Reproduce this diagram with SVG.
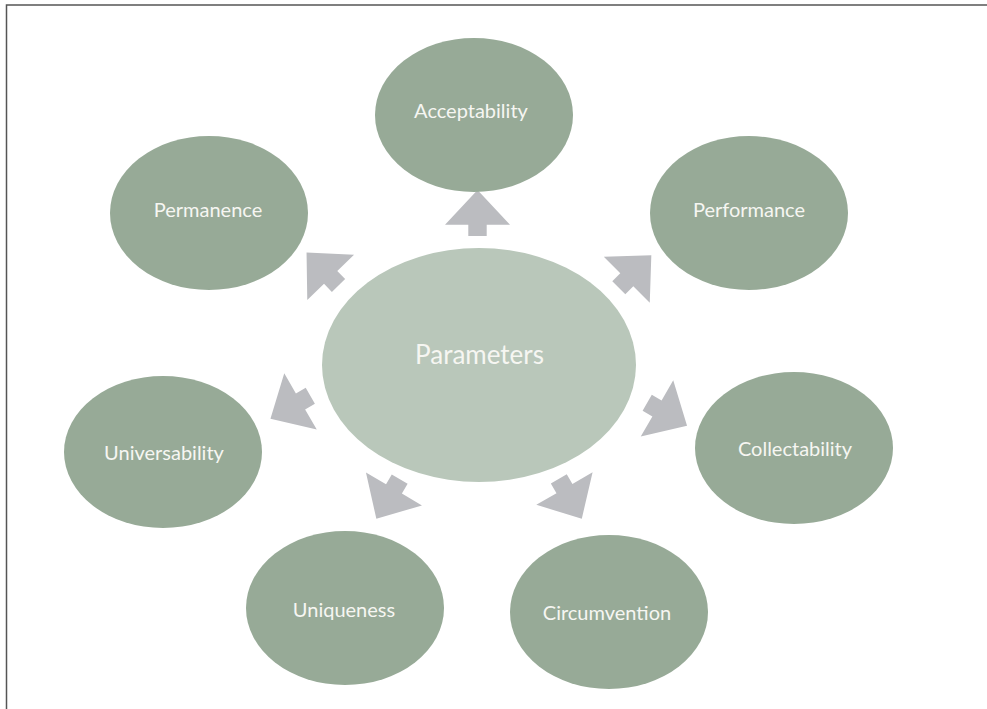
<svg xmlns="http://www.w3.org/2000/svg" xmlns:xlink="http://www.w3.org/1999/xlink" width="987" height="709" viewBox="0 0 987 709">
<style>
.outer{fill:#97aa97}
.center{fill:#b9c7ba}
.lbl{font-family:Lato,"Open Sans","Liberation Sans",sans-serif;font-size:20px;fill:#f6f6f2;text-anchor:middle}
.big{font-size:26px}
.arr{fill:#bbbcc0}
</style>
<defs>
<path id="blk" d="M0,-9.2 H11.3 V-32.5 L46,0 L11.3,32.5 V9.2 H0 Z"/>
</defs>
<rect width="987" height="709" fill="#ffffff"/>
<path d="M6.5,709 V5 H987" fill="none" stroke="#555555" stroke-width="1.5"/>
<g id="connectors" class="arr">
<use xlink:href="#blk" transform="translate(477.5,236) rotate(-90)"/>
<use xlink:href="#blk" transform="translate(338.5,285.5) rotate(-134)"/>
<use xlink:href="#blk" transform="translate(618.8,287.8) rotate(-45)"/>
<use xlink:href="#blk" transform="translate(647.2,402.8) rotate(30)"/>
<use xlink:href="#blk" transform="translate(310.3,395.8) rotate(150)"/>
<use xlink:href="#blk" transform="translate(399.7,479.2) rotate(120.5)"/>
<use xlink:href="#blk" transform="translate(558.8,478.8) rotate(60)"/>
</g>
<g id="parameters"><ellipse class="center" cx="479" cy="365" rx="157" ry="117"/><text class="lbl big" x="479.5" y="364">Parameters</text></g>
<g id="acceptability"><ellipse class="outer" cx="474" cy="115" rx="99" ry="77"/><text class="lbl" x="471" y="118">Acceptability</text></g>
<g id="permanence"><ellipse class="outer" cx="209" cy="213" rx="99" ry="77"/><text class="lbl" x="208" y="217">Permanence</text></g>
<g id="performance"><ellipse class="outer" cx="749" cy="213" rx="99" ry="77"/><text class="lbl" x="749" y="217">Performance</text></g>
<g id="collectability"><ellipse class="outer" cx="794" cy="448" rx="99" ry="76"/><text class="lbl" x="795" y="456">Collectability</text></g>
<g id="universability"><ellipse class="outer" cx="163" cy="452" rx="99" ry="76"/><text class="lbl" x="164" y="460">Universability</text></g>
<g id="uniqueness"><ellipse class="outer" cx="345" cy="608" rx="99" ry="77"/><text class="lbl" x="344" y="617">Uniqueness</text></g>
<g id="circumvention"><ellipse class="outer" cx="609" cy="612" rx="99" ry="77"/><text class="lbl" x="607" y="620">Circumvention</text></g>
</svg>
